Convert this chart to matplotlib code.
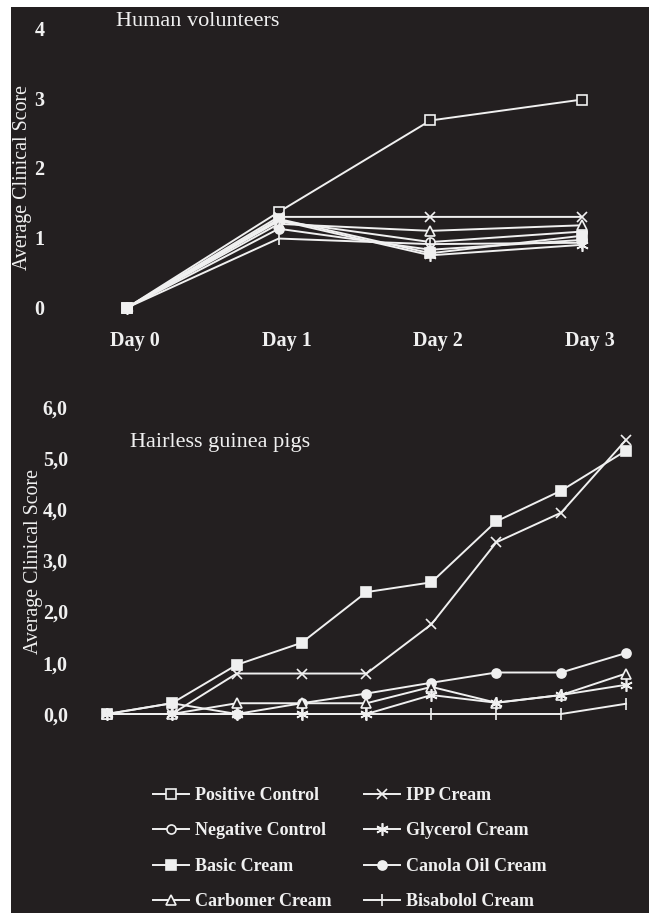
import matplotlib
matplotlib.use('Agg')
import matplotlib.pyplot as plt
from matplotlib.patches import Rectangle
from matplotlib.transforms import ScaledTranslation

plt.rcParams['font.family'] = ['Liberation Serif', 'DejaVu Serif']

bg = '#231f20'
fg = '#f0f0f0'

# human volunteers, days 0-3
days = ['Day 0', 'Day 1', 'Day 2', 'Day 3']
hum_positive = [0, 1.37, 2.68, 2.98]
hum_negative = [0, 1.24, 0.94, 1.09]
hum_basic = [0, 1.27, 0.78, 1.03]
hum_carbomer = [0, 1.20, 1.10, 1.18]
hum_ipp = [0, 1.30, 1.30, 1.30]
hum_glycerol = [0, 1.25, 0.75, 0.90]
hum_canola = [0, 1.13, 0.83, 0.97]
hum_bisabolol = [0, 0.99, 0.91, 0.93]

# hairless guinea pigs, 9 readings
gp_time = [0, 1, 2, 3, 4, 5, 6, 7, 8]
gp_basic = [0, 0.21, 0.96, 1.39, 2.38, 2.57, 3.76, 4.36, 5.14]
gp_ipp = [0, 0, 0.79, 0.79, 0.79, 1.75, 3.35, 3.93, 5.35]
gp_canola = [0, 0.21, 0, 0.21, 0.40, 0.61, 0.81, 0.81, 1.19]
gp_carbomer = [0, 0, 0.21, 0.21, 0.21, 0.53, 0.22, 0.37, 0.79]
gp_glycerol = [0, 0, 0, 0, 0, 0.37, 0.22, 0.37, 0.57]
gp_bisabolol = [0, 0, 0, 0, 0, 0, 0, 0, 0.20]

labels = ['Positive Control', 'Negative Control', 'Basic Cream', 'Carbomer Cream',
          'IPP Cream', 'Glycerol Cream', 'Canola Oil Cream', 'Bisabolol Cream']

style = {
    'Positive Control': dict(marker='s', mfc=bg),
    'Negative Control': dict(marker='o', mfc=bg),
    'Basic Cream': dict(marker='s', mfc=fg),
    'Carbomer Cream': dict(marker='^', mfc=bg),
    'IPP Cream': dict(marker='x'),
    'Glycerol Cream': dict(marker=(6, 2, 0), ms=9),
    'Canola Oil Cream': dict(marker='o', mfc=fg),
    'Bisabolol Cream': dict(marker='|', ms=8),
}

human = dict(zip(labels, [hum_positive, hum_negative, hum_basic, hum_carbomer,
                          hum_ipp, hum_glycerol, hum_canola, hum_bisabolol]))
pigs = {'Basic Cream': gp_basic, 'IPP Cream': gp_ipp, 'Canola Oil Cream': gp_canola,
        'Carbomer Cream': gp_carbomer, 'Glycerol Cream': gp_glycerol,
        'Bisabolol Cream': gp_bisabolol}

fig = plt.figure(figsize=(6.49, 9.13), dpi=100, facecolor='white')
fig.patches.append(Rectangle((11 / 649, 0), 1, 1 - 7 / 913, transform=fig.transFigure,
                             facecolor=bg, edgecolor='none', zorder=-1))

W, H = 649, 913
ax1 = fig.add_axes([100 / W, 1 - 320 / H, 520 / W, 305 / H])
ax2 = fig.add_axes([90 / W, 1 - 735 / H, 550 / W, 335 / H])


def line_kw(name):
    kw = dict(color=fg, lw=1.4, ms=6.5, mec=fg, mew=1.2)
    kw.update(style[name])
    return kw


handles = []
for name in labels:
    h, = ax1.plot(range(len(days)), human[name], label=name, **line_kw(name))
    handles.append(h)

for name, vals in pigs.items():
    ax2.plot(gp_time, vals, **line_kw(name))

for ax in (ax1, ax2):
    ax.set_facecolor('none')
    for s in ax.spines.values():
        s.set_visible(False)
    ax.tick_params(length=0, colors=fg, labelsize=14.5)

ax1.set_xlim(-0.178, 3.25)
ax1.set_ylim(-0.176, 4.19)
ax1.set_xticks(range(len(days)), days, fontweight='bold')
ax1.set_yticks([0, 1, 2, 3, 4], ['0', '1', '2', '3', '4'], fontweight='bold')
ax1.tick_params(axis='y', pad=40)
ax1.tick_params(axis='x', pad=8)
for lab in ax1.get_xticklabels():
    lab.set_transform(lab.get_transform() + ScaledTranslation(0.08, 0, fig.dpi_scale_trans))

ax2.set_xlim(-0.262, 8.216)
ax2.set_ylim(-0.41, 6.13)
ax2.set_xticks([])
ax2.set_yticks([0, 1, 2, 3, 4, 5, 6], ['0,0', '1,0', '2,0', '3,0', '4,0', '5,0', '6,0'],
               fontweight='bold')
ax2.tick_params(axis='y', pad=16)

fig.text(116 / W, 1 - 21 / H, 'Human volunteers', color=fg, fontsize=16, va='center')
fig.text(130 / W, 1 - 442 / H, 'Hairless guinea pigs', color=fg, fontsize=16, va='center')
fig.text(23 / W, 1 - 178 / H, 'Average Clinical Score', color=fg, fontsize=14.3,
         rotation=90, va='center', ha='center')
fig.text(34 / W, 1 - 562 / H, 'Average Clinical Score', color=fg, fontsize=14.3,
         rotation=90, va='center', ha='center')

fig.legend(handles, labels, ncol=2, loc='upper left', bbox_to_anchor=(153 / W, 1 - 787 / H),
           frameon=False, labelcolor=fg, handlelength=2.0, handletextpad=0.35,
           labelspacing=1.02, columnspacing=1.75, borderpad=0, borderaxespad=0,
           prop={'weight': 'bold', 'size': 13})

fig.savefig('out.png', dpi=100, facecolor=fig.get_facecolor())
